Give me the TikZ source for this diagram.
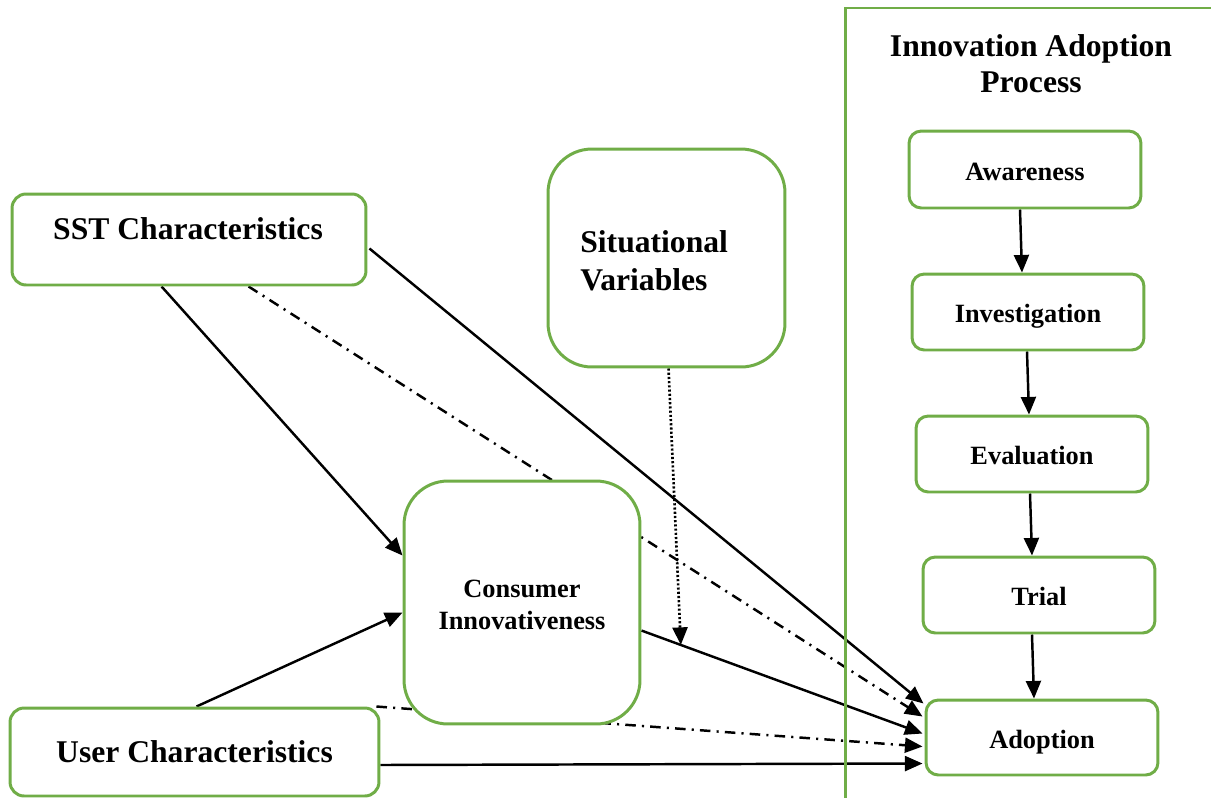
\documentclass[tikz,border=0pt]{standalone}
\usepackage{fontspec}
\setmainfont{Liberation Serif}
\usetikzlibrary{arrows.meta,calc,backgrounds}
\definecolor{boxgreen}{HTML}{70AD47}
\begin{document}
\begin{tikzpicture}[x=0.02cm,y=-0.02cm,
  box/.style={draw=boxgreen,line width=1.7pt,fill=white,inner sep=0pt,align=center},
  smallbox/.style={box,rounded corners=7pt,minimum width=4.64cm,minimum height=1.52cm,
    text height=12.5pt,text depth=0.5pt,font=\bfseries\fontsize{15}{18}\selectfont},
  bigtext/.style={font=\bfseries\fontsize{18}{21.5}\selectfont,inner sep=0pt},
  link/.style={line width=1.4pt,-{Triangle[length=10pt,width=8.5pt]}},
  dashdot/.style={link,dash pattern=on 6pt off 3.5pt on 1.2pt off 3.5pt},
  dots/.style={link,line width=1.5pt,dash pattern=on 1.2pt off 1.2pt}
]
\useasboundingbox (0,0) rectangle (1211,798);

% adoption-process panel
\draw[boxgreen,line width=1.7pt] (845,800) -- (845,8) -- (1215,8);
\node[bigtext,align=center,font=\bfseries\fontsize{18}{20.4}\selectfont] (title) at (1031,64)
  {Innovation Adoption\\Process};

% boxes
\node[box,rounded corners=8pt,minimum width=7.08cm,minimum height=1.82cm] (sst) at (189,239.5) {};
\node[bigtext] (ssttext) at (188,229) {SST Characteristics};

\node[box,rounded corners=25pt,minimum width=4.74cm,minimum height=4.36cm] (sit) at (666.5,258) {};
\node[bigtext,align=left,anchor=west] (sittext) at (580,261) {Situational\\Variables};

\node[box,rounded corners=25pt,minimum width=4.72cm,minimum height=4.86cm] (ci) at (522,602.5) {};
\node[font=\bfseries\fontsize{15}{18}\selectfont,align=center,inner sep=0pt] (citext) at (522,605)
  {Consumer\\Innovativeness};

\node[box,rounded corners=8pt,minimum width=7.38cm,minimum height=1.76cm,
  font=\bfseries\fontsize{18}{21.5}\selectfont] (user) at (194.5,752) {User Characteristics};

\node[smallbox,minimum height=1.54cm] (aw) at (1025,169.5) {Awareness};
\node[smallbox] (inv) at (1028,312) {Investigation};
\node[smallbox] (ev) at (1032,454) {Evaluation};
\node[smallbox] (trial) at (1039,595) {Trial};
\node[smallbox,minimum height=1.5cm] (adopt) at (1042,737.5) {Adoption};

% connectors, kept behind the boxes
\begin{pgfonlayer}{background}
\draw[link] ($(sst.south west)+(151,0)$) -- ($(ci.north west)+(0,76)$);
\draw[dashdot] ($(sst.south west)+(238,0)$) -- ($(adopt.north west)+(-2,18)$);
\draw[link] ($(sst.north east)+(2,56)$) -- ($(adopt.north west)+(-1,5)$);
\draw[link] ($(ci.north east)+(0,151)$) -- coordinate[pos=0.14] (meet) ($(adopt.north west)+(-2,35)$);
\draw[dots] ($(sit.south west)+(122,0)$) -- (meet);
\draw[link] ($(user.north)+(2,0)$) -- ($(ci.north west)+(0,133)$);
\draw[dashdot] ($(user.north east)+(-4,0)$) -- ($(adopt.north west)+(-2,48)$);
\draw[link] ($(user.east)+(0,13)$) -- ($(adopt.north west)+(-2,65)$);

\draw[link] ($(aw.south)+(-5,0)$) -- ($(inv.north)+(-6,0)$);
\draw[link] ($(inv.south)+(-1,0)$) -- ($(ev.north)+(-3,0)$);
\draw[link] ($(ev.south)+(-2,0)$) -- ($(trial.north)+(-7,0)$);
\draw[link] ($(trial.south)+(-7,0)$) -- ($(adopt.north)+(-8,0)$);
\end{pgfonlayer}
\end{tikzpicture}
\end{document}
